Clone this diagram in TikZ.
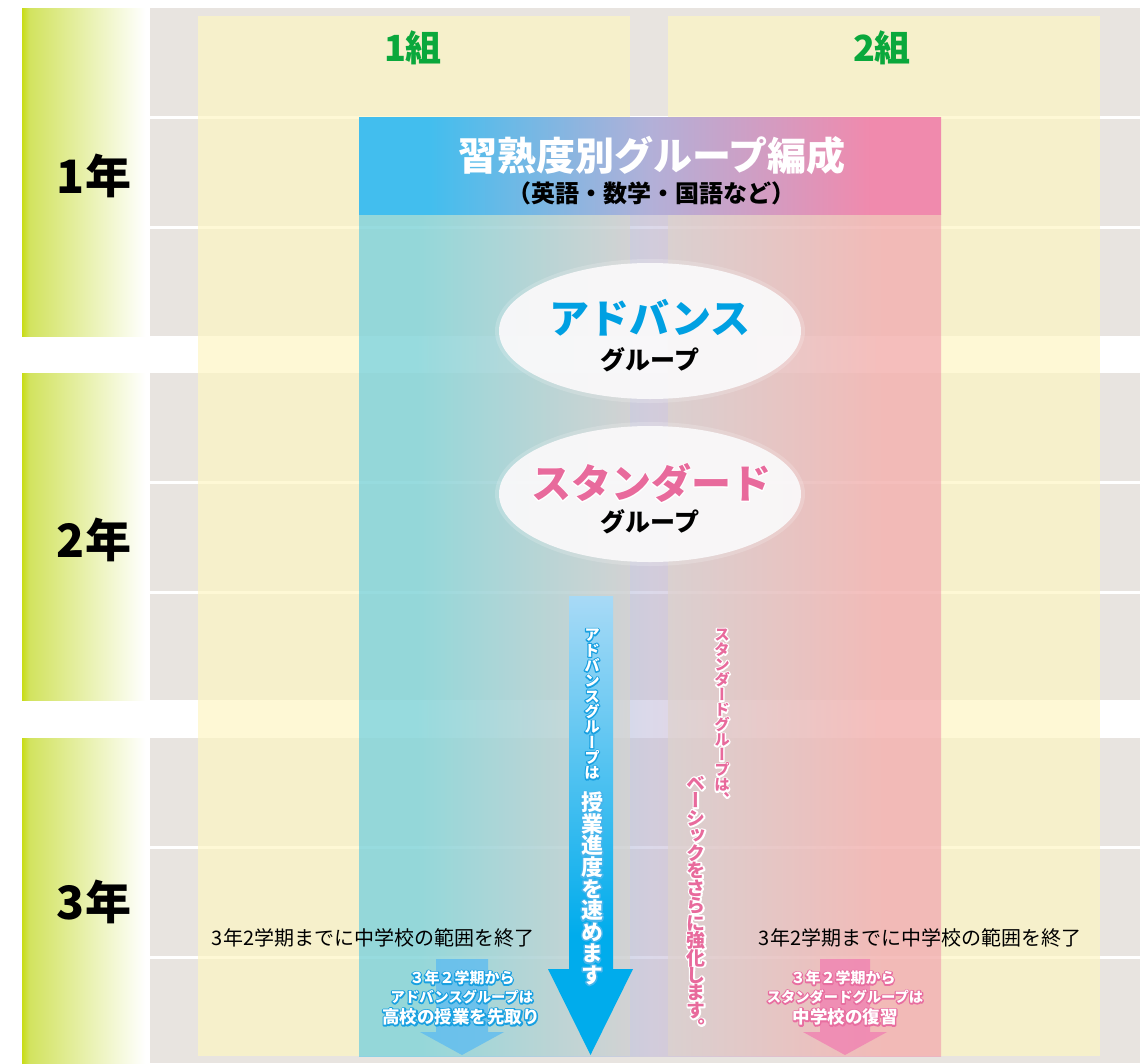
\documentclass[tikz,border=0pt]{standalone}
\usepackage{fontspec}
\setmainfont{Noto Sans CJK JP}
\newfontfamily\tatefont[RawFeature=+vert]{Noto Sans CJK JP}
\usetikzlibrary{shapes.geometric}

\definecolor{bgGray}{RGB}{232,228,224}
\definecolor{colYel}{RGB}{254,246,194}
\definecolor{lime}{RGB}{200,220,20}
\definecolor{limeB}{RGB}{210,227,95}
\definecolor{gcA}{RGB}{68,196,230}
\definecolor{gcM}{RGB}{192,186,217}
\definecolor{gcB}{RGB}{239,143,168}
\definecolor{hdA}{RGB}{66,190,238}
\definecolor{hdM}{RGB}{178,176,216}
\definecolor{hdB}{RGB}{240,138,173}
\definecolor{arT}{RGB}{168,218,246}
\definecolor{arB}{RGB}{0,172,236}
\definecolor{grn}{RGB}{10,168,60}
\definecolor{advBlue}{RGB}{0,160,226}
\definecolor{stdPink}{RGB}{232,106,156}
\definecolor{haloBlue}{RGB}{25,160,225}
\definecolor{haloLBlue}{RGB}{70,180,235}
\definecolor{haloPink}{RGB}{232,110,160}
\definecolor{smBlue}{RGB}{95,188,240}
\definecolor{smPink}{RGB}{240,130,178}
\definecolor{ellW}{RGB}{250,249,250}

\pgfdeclarehorizontalshading{limeshade}{100bp}{color(0bp)=(lime); color(25bp)=(lime); color(28bp)=(limeB); color(74bp)=(white); color(100bp)=(white)}
\pgfdeclarehorizontalshading{colshade}{100bp}{color(0bp)=(gcA); color(30bp)=(gcA); color(50bp)=(gcM); color(70bp)=(gcB); color(100bp)=(gcB)}
\pgfdeclarehorizontalshading{hdshade}{100bp}{color(0bp)=(hdA); color(31bp)=(hdA); color(50bp)=(hdM); color(69bp)=(hdB); color(100bp)=(hdB)}
\pgfdeclareverticalshading{arshade}{100bp}{color(0bp)=(arB); color(38bp)=(arB); color(75bp)=(arT); color(100bp)=(arT)}

\makeatletter
\newcommand\tate[2][1]{\vbox{\baselineskip=#1em\lineskiplimit=-\maxdimen\lineskip=0pt\tate@#2\relax}}
\def\tate@#1{\ifx\relax#1\else\hbox to 1em{\hss#1\hss}\expandafter\tate@\fi}
\makeatother

% outlined text: a stroked copy in the halo colour under the normal text
\newcommand\halo[3]{\leavevmode\rlap{\color{#1}\special{pdf:literal direct #2 w 1 j 2 Tr}#3\special{pdf:literal direct 0 Tr}}#3}

\newcommand\fs[1]{\fontsize{#1}{#1}\selectfont}

\tikzset{
  txt/.style={inner sep=0pt, outer sep=0pt},
  yearlbl/.style={txt, font=\bfseries\fs{46}},
  classlbl/.style={txt, text=grn, font=\bfseries\fs{36}},
  grouplbl/.style={txt, font=\bfseries\fs{25}},
  endnote/.style={txt, font=\fs{20}},
  ellbg/.style={ellipse, fill=ellW, fill opacity=0.93, minimum width=302pt, minimum height=136pt, inner sep=0pt},
  ellglow/.style={ellipse, fill=white, fill opacity=0.18, minimum width=310pt, minimum height=144pt, inner sep=0pt},
}

\begin{document}
\begin{tikzpicture}[x=1pt,y=-1pt]
\useasboundingbox (0,0) rectangle (1140,1063);
\fill[white] (0,0) rectangle (1140,1063);

% year bands and grey rows
\foreach \ya/\yb in {8/336,373/700,738/1063}{
  \shade[shading=limeshade] (22,\ya) rectangle (148,\yb);
  \fill[bgGray] (150,\ya) rectangle (1140,\yb);
}
\foreach \yl in {117.5,227.5,482.5,592.5,847.5,957.5}
  \fill[white] (150,\yl-1.3) rectangle (1140,\yl+1.3);

% class columns
\fill[colYel,opacity=0.68] (198,16) rectangle (630,1056);
\fill[colYel,opacity=0.68] (668,16) rectangle (1100,1056);

% graded group column
\shade[shading=colshade,opacity=0.55] (359,214) rectangle (941,1056);
% header bar
\shade[shading=hdshade] (359,117) rectangle (941,214);

\node[txt, text=white, font=\bfseries\fs{39}] (title) at (652,156) {習熟度別グループ編成};
\node[txt, font=\bfseries\fs{24}] (subtitle) at (651,193) {（英語・数学・国語など）};

% class labels
\node[classlbl] (c1) at (413,48) {1組};
\node[classlbl] (c2) at (882,48) {2組};

% year labels
\node[yearlbl] (y1) at (94,176) {1年};
\node[yearlbl] (y2) at (94,540) {2年};
\node[yearlbl] (y3) at (94,902) {3年};

% ellipses
\node[ellglow] (glowA) at (650,331) {};
\node[ellbg] (ellA) at (650,331) {};
\node[ellglow] (glowB) at (650,494) {};
\node[ellbg] (ellB) at (650,494) {};
\node[txt, text=advBlue, font=\bfseries\fs{40}] (advT) at (650,318) {アドバンス};
\node[grouplbl] (advG) at (650,360) {グループ};
\node[txt, text=stdPink, font=\bfseries\fs{40}] (stdT) at (651,483) {\halo{white}{2}{スタンダード}};
\node[grouplbl] (stdG) at (650,522) {グループ};

% big blue arrow
\coordinate (arTip) at (590.5,1055);
\shade[shading=arshade] (569,596) -- (613,596) -- (613,969) -- (633,969) -- (arTip) -- (548,969) -- (569,969) -- cycle;

\node[txt, anchor=north, text=white] (advV1) at (592,629)
  {\halo{haloBlue}{2.4}{\tatefont\bfseries\fs{15.5}\tate[0.99]{アドバンスグループは}}};
\node[txt, anchor=north, text=white] (advV2) at (592,792)
  {\halo{haloLBlue}{3}{\tatefont\bfseries\fs{22}\tate[0.98]{授業進度を速めます}}};

% pink vertical text
\node[txt, anchor=north, text=stdPink] (stdV1) at (722,629)
  {\halo{white}{2.8}{\tatefont\bfseries\fs{15.5}\tate[0.97]{スタンダードグループは、}}};
\node[txt, anchor=north, text=stdPink] (stdV2) at (696,776)
  {\halo{white}{3.2}{\tatefont\bfseries\fs{19}\tate[0.92]{ベーシックをさらに強化します。}}};

% end-of-course notes
\node[endnote] (m3L) at (373,938) {3年2学期までに中学校の範囲を終了};
\node[endnote] (m3R) at (920,938) {3年2学期までに中学校の範囲を終了};

% small arrows
\fill[smBlue,opacity=0.8] (436,959) -- (488,959) -- (488,1032) -- (504,1032) -- (462,1055) -- (420,1032) -- (436,1032) -- cycle;
\fill[smPink,opacity=0.8] (820,959) -- (870,959) -- (870,1032) -- (887,1032) -- (845,1055) -- (803,1032) -- (820,1032) -- cycle;

\node[txt, text=white, font=\bfseries\fs{15}] (bA1) at (462,978) {\halo{haloBlue}{2.6}{３年２学期から}};
\node[txt, text=white, font=\bfseries\fs{14.3}] (bA2) at (462,997) {\halo{haloBlue}{2.6}{アドバンスグループは}};
\node[txt, text=white, font=\bfseries\fs{17.5}] (bA3) at (461,1017) {\halo{haloBlue}{2.8}{高校の授業を先取り}};

\node[txt, text=white, font=\bfseries\fs{15}] (bS1) at (843,978) {\halo{haloPink}{2.6}{３年２学期から}};
\node[txt, text=white, font=\bfseries\fs{14.3}] (bS2) at (845,997) {\halo{haloPink}{2.6}{スタンダードグループは}};
\node[txt, text=white, font=\bfseries\fs{17.5}] (bS3) at (845,1017) {\halo{haloPink}{2.8}{中学校の復習}};
\end{tikzpicture}
\end{document}
